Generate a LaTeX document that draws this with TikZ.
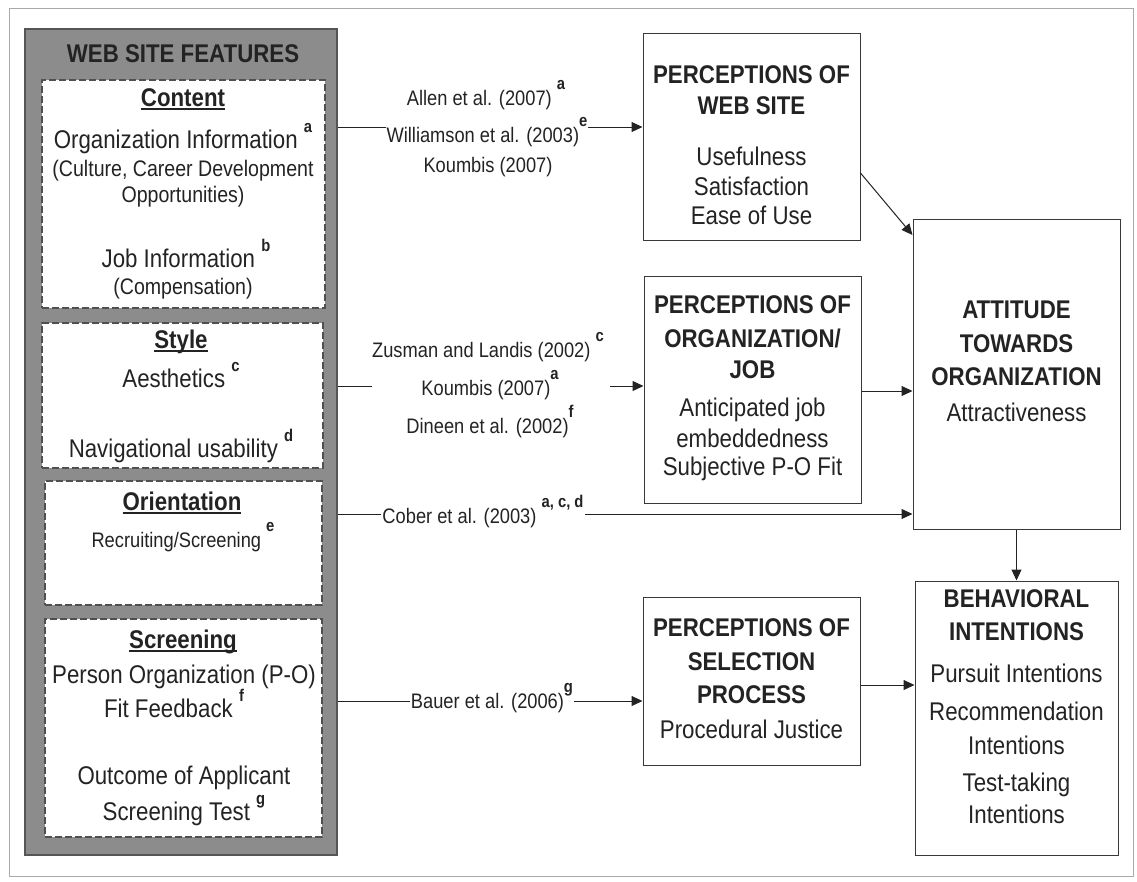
\documentclass[tikz,border=0pt]{standalone}
\usepackage{fontspec}
\setmainfont{Liberation Sans}[FakeStretch=0.87]
\usetikzlibrary{arrows.meta}

\definecolor{ink}{RGB}{35,35,35}
\definecolor{panelgray}{RGB}{140,140,140}
\definecolor{paneledge}{RGB}{85,85,85}
\definecolor{dashedge}{RGB}{80,80,80}
\definecolor{framegray}{RGB}{170,170,170}

\newcommand\fhead{\fontsize{25.6}{30}\selectfont\bfseries}
\newcommand\fmain{\fontsize{25.6}{30}\selectfont}
\newcommand\fsmall{\fontsize{22.5}{26}\selectfont}
\newcommand\fcite{\fontsize{21}{25}\selectfont}
% raised bold reference letter
\newcommand\supl[1]{\raisebox{16pt}{\fontsize{17}{17}\selectfont\bfseries #1}}
% heading underline at a fixed depth
\newsavebox\ulbox
\newcommand\hdul[1]{\sbox\ulbox{#1}\usebox\ulbox\llap{\rule[-3.5pt]{\wd\ulbox}{1.8pt}}}

\begin{document}
\begin{tikzpicture}[x=1pt,y=-1pt,
  panel/.style={fill=panelgray, draw=paneledge, line width=1.5pt, inner sep=0pt},
  dbox/.style={fill=white, draw=dashedge, line width=1.3pt, dash pattern=on 7pt off 3pt, inner sep=0pt},
  box/.style={fill=white, draw=ink!90, line width=1pt, inner sep=0pt},
  hd/.style={font=\fhead, text=ink, anchor=base, inner sep=0pt},
  tx/.style={font=\fmain, text=ink, anchor=base, inner sep=0pt},
  sm/.style={font=\fsmall, text=ink, anchor=base, inner sep=0pt},
  ct/.style={font=\fcite, text=ink, anchor=base, inner sep=1pt},
  onl/.style={fill=white},
  link/.style={draw=ink, line width=1pt},
  conn/.style={link, -{Triangle[length=11pt,width=10pt]}}
]
\useasboundingbox (0,0) rectangle (1137,881);
\draw[framegray, line width=1pt] (9,8) rectangle (1133,876);

% ---- feature panel ----
\node[panel, minimum width=312, minimum height=826] (panel) at (181,442) {};
\node[dbox, minimum width=283, minimum height=228] (content) at (183.5,194) {};
\node[dbox, minimum width=281, minimum height=145] (style) at (182.5,395.5) {};
\node[dbox, minimum width=277, minimum height=124] (orient) at (183.5,543) {};
\node[dbox, minimum width=277, minimum height=218] (screen) at (183.5,728) {};

\node[hd] (t0) at (183,62) {WEB SITE FEATURES};
\node[hd] (t1) at (183,106) {\hdul{Content}};
\node[tx] (t2) at (183,148) {Organization Information \supl{a}};
\node[sm] (t3) at (183,176) {(Culture, Career Development};
\node[sm] (t4) at (183,202) {Opportunities)};
\node[tx] (t5) at (186,267) {Job Information \supl{b}};
\node[sm] (t6) at (183,294) {(Compensation)};

\node[hd] (s0) at (181,348) {\hdul{Style}};
\node[tx] (s1) at (181,387) {Aesthetics \supl{c}};
\node[tx] (s2) at (181,457) {Navigational usability \supl{d}};

\node[hd] (o0) at (182,510) {\hdul{Orientation}};
\node[ct, inner sep=0pt] (o1) at (183,547) {Recruiting/Screening \supl{e}};

\node[hd] (q0) at (183,648) {\hdul{Screening}};
\node[tx] (q1) at (184,683) {Person Organization (P-O)};
\node[tx] (q2) at (174,717) {Fit Feedback \supl{f}};
\node[tx] (q3) at (184,784) {Outcome of Applicant};
\node[tx] (q4) at (184,820) {Screening Test \supl{g}};

% ---- perception and outcome boxes ----
\node[box, minimum width=217, minimum height=207] (web) at (751.5,136.5) {};
\node[box, minimum width=217, minimum height=227] (org) at (752.5,389.5) {};
\node[box, minimum width=217, minimum height=168] (sel) at (751.5,681) {};
\node[box, minimum width=207, minimum height=310] (att) at (1016.5,374) {};
\node[box, minimum width=203, minimum height=274] (beh) at (1016.5,718) {};

\node[hd] (w1) at (751.5,83) {PERCEPTIONS OF};
\node[hd] (w2) at (751.5,114) {WEB SITE};
\node[tx] (w3) at (751.5,165) {Usefulness};
\node[tx] (w4) at (751.5,195) {Satisfaction};
\node[tx] (w5) at (751.5,224) {Ease of Use};

\node[hd] (g1) at (752.5,313) {PERCEPTIONS OF};
\node[hd] (g2) at (752.5,347) {ORGANIZATION/};
\node[hd] (g3) at (752.5,378) {JOB};
\node[tx] (g4) at (752.5,416) {Anticipated job};
\node[tx] (g5) at (752.5,447) {embeddedness};
\node[tx] (g6) at (752.5,475) {Subjective P-O Fit};

\node[hd] (p1) at (751.5,636) {PERCEPTIONS OF};
\node[hd] (p2) at (751.5,670) {SELECTION};
\node[hd] (p3) at (751.5,703) {PROCESS};
\node[tx] (p4) at (751.5,738) {Procedural Justice};

\node[hd] (a1) at (1016.5,318) {ATTITUDE};
\node[hd] (a2) at (1016.5,352) {TOWARDS};
\node[hd] (a3) at (1016.5,385) {ORGANIZATION};
\node[tx] (a4) at (1016.5,421) {Attractiveness};

\node[hd] (b1) at (1016.5,607) {BEHAVIORAL};
\node[hd] (b2) at (1016.5,640) {INTENTIONS};
\node[tx] (b3) at (1016.5,682) {Pursuit Intentions};
\node[tx] (b4) at (1016.5,720) {Recommendation};
\node[tx] (b5) at (1016.5,754) {Intentions};
\node[tx] (b6) at (1016.5,791) {Test-taking};
\node[tx] (b7) at (1016.5,823) {Intentions};

% ---- connectors ----
\draw[conn] (panel.east |- 0,127) -- (web.west |- 0,127);
\coordinate (gapL) at (372,386);
\coordinate (gapR) at (610,386);
\draw[link] (panel.east |- gapL) -- (gapL);
\draw[conn] (gapR) -- (org.west |- gapR);
\draw[conn] (panel.east |- 0,514) -- (att.west |- 0,514);
\draw[conn] (panel.east |- 0,701) -- (sel.west |- 0,701);
\draw[conn] (web.east |- 0,173) -- (att.west |- 0,235);
\draw[conn] (org.east |- 0,391) -- (att.west |- 0,391);
\draw[conn] (att.south) -- (beh.north);
\draw[conn] (sel.east |- 0,685) -- (beh.west |- 0,685);

% ---- citation labels ----
\node[ct] (c1) at (486,105) {Allen et al. (2007) \supl{a}};
\node[ct, onl] (c2) at (487,142) {Williamson et al. (2003)\supl{e}};
\node[ct] (c3) at (488,172) {Koumbis (2007)};
\node[ct] (c4) at (488,357) {Zusman and Landis (2002) \supl{c}};
\node[ct] (c5) at (490,395) {Koumbis (2007)\supl{a}};
\node[ct] (c6) at (490,433) {Dineen et al. (2002)\supl{f}};
\node[ct, onl] (c7) at (483,523) {Cober et al. (2003) \supl{a, c, d}};
\node[ct, onl] (c8) at (492,708) {Bauer et al. (2006)\supl{g}};
\end{tikzpicture}
\end{document}
